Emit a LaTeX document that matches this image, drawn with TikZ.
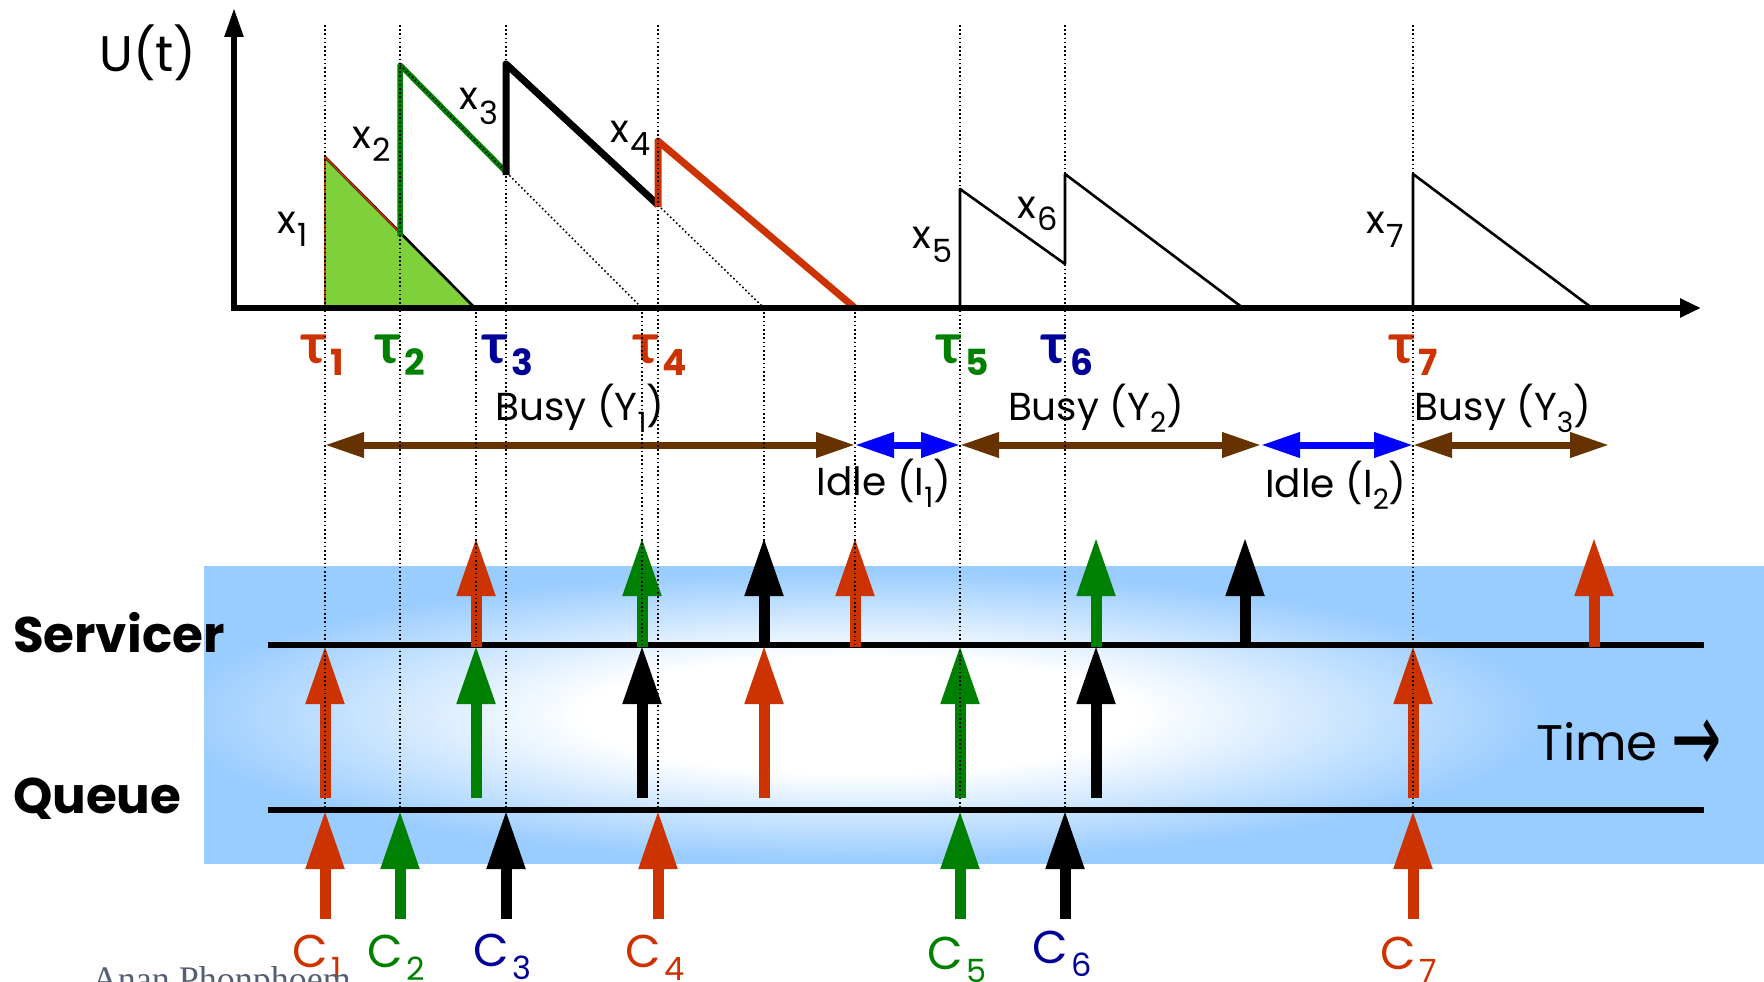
\documentclass[tikz,border=0pt]{standalone}
\usepackage{fontspec}
\setmainfont{Poppins}
\newfontfamily\taufont{Lato}
\newfontfamily\footfont{Liberation Serif}
\newfontfamily\arrowfont{DejaVu Sans}
\usetikzlibrary{arrows.meta}
\newcommand\fsz[1]{\fontsize{#1}{#1}\selectfont}
\definecolor{cred}{RGB}{204,51,0}
\definecolor{cgreen}{RGB}{0,128,0}
\definecolor{cnavy}{RGB}{0,0,153}
\definecolor{cbrown}{RGB}{102,51,0}
\definecolor{cblue}{RGB}{0,0,255}
\definecolor{cfill}{RGB}{126,209,59}
\definecolor{panelblue}{RGB}{153,204,255}
\definecolor{footgray}{RGB}{85,95,115}
\pgfdeclareradialshading{panelshade}{\pgfpoint{0bp}{0bp}}{color(0bp)=(white); color(10bp)=(white); color(25bp)=(panelblue); color(50bp)=(panelblue)}
\begin{document}
\begin{tikzpicture}[x=1pt,y=-1pt,
  lbl/.style={inner sep=0pt, outer sep=0pt},
  xlab/.style={lbl, anchor=base west, font=\fsz{39}},
  taulab/.style={lbl, anchor=base west},
  clab/.style={lbl, anchor=base west},
  spanlab/.style={lbl, anchor=base, font=\fsz{39}},
  dotline/.style={line width=1.6pt, dash pattern=on 1.6pt off 2.6pt},
  axisline/.style={line width=5.5pt},
  thinsaw/.style={line width=2.6pt, line join=round},
  thicksaw/.style={line width=7pt, line join=round},
  blockarrow/.style={line width=11pt, -{Triangle[width=36pt,length=59pt]}},
  spanarrow/.style={line width=7pt, {Triangle[width=24pt,length=39pt]}-{Triangle[width=24pt,length=39pt]}},
  rowline/.style={line width=5.5pt}
]
\useasboundingbox (0,0) rectangle (1764,982);
\clip (0,0) rectangle (1764,982);

% panel
\begin{scope}
  \clip (204,566) rectangle (1764,864);
  \fill[panelblue] (204,566) rectangle (1764,864);
  \shade[shading=panelshade] (860,715) ellipse [x radius=690pt, y radius=146pt];
\end{scope}

% workload curve
\fill[cfill] (325,308) -- (325,157) -- (475,308) -- cycle;
\draw[line width=2.6pt] (325,157) -- (475,308);
\draw[cred, line width=1.6pt] (325,311) -- (325,157) -- (400,233);
\draw[cgreen, line width=5.5pt, line join=round] (400,236) -- (400,65) -- (506,172);
\draw[dotline] (400,65) -- (506,172) -- (642,308);
\draw[thicksaw] (506,175) -- (506,64) -- (658,205);
\draw[dotline] (658,205) -- (764,308);
\draw[thicksaw, cred] (658,207) -- (658,141) -- (855,308);
\draw[thinsaw] (960,308) -- (960,189) -- (1065,264) -- (1065,174) -- (1243,308);
\draw[thinsaw] (1413,308) -- (1413,174) -- (1592,308);

% axes
\coordinate (origin) at (234,308);
\coordinate (ytip) at (234,8);
\coordinate (xtip) at (1701,308);
\draw[axisline, -{Triangle[width=18pt,length=29pt]}] (234,311) -- (ytip);
\draw[axisline, -{Triangle[width=18pt,length=21pt]}] (231,308) -- (xtip);

\node[lbl, anchor=base, font=\fsz{50}] (ut) at (148,72) {U(t)};

% x labels
\node[xlab] (x1) at (277,233) {x\kern2pt\lower13pt\hbox{\fsz{32}1}};
\node[xlab] (x2) at (352,148) {x\kern2pt\lower13pt\hbox{\fsz{32}2}};
\node[xlab] (x3) at (459,110) {x\kern2pt\lower14pt\hbox{\fsz{32}3}};
\node[xlab] (x4) at (610,142) {x\kern2pt\lower13pt\hbox{\fsz{32}4}};
\node[xlab] (x5) at (912,248) {x\kern2pt\lower14pt\hbox{\fsz{32}5}};
\node[xlab] (x6) at (1017,218) {x\kern2pt\lower12pt\hbox{\fsz{32}6}};
\node[xlab] (x7) at (1366,233) {x\kern2pt\lower14pt\hbox{\fsz{32}7}};

% tau labels
\newcommand\taug{{\taufont\bfseries\fsz{56}τ}}
\newcommand\tsub[1]{\lower12pt\hbox{\bfseries\fsz{36}#1}}
\node[taulab, text=cred]   (tau1) at (327,363) {\llap{\taug}\kern3pt\tsub{1}};
\node[taulab, text=cgreen] (tau2) at (401,363) {\llap{\taug}\kern3pt\tsub{2}};
\node[taulab, text=cnavy]  (tau3) at (508,363) {\llap{\taug}\kern3pt\tsub{3}};
\node[taulab, text=cred]   (tau4) at (659,363) {\llap{\taug}\kern3pt\tsub{4}};
\node[taulab, text=cgreen] (tau5) at (962,363) {\llap{\taug}\kern3pt\tsub{5}};
\node[taulab, text=cnavy]  (tau6) at (1067,363) {\llap{\taug}\kern3pt\tsub{6}};
\node[taulab, text=cred]   (tau7) at (1415,363) {\llap{\taug}\kern3pt\tsub{7}};

% busy / idle spans
\coordinate (s0) at (325,445);
\coordinate (s1) at (855,445);
\coordinate (s2) at (960,445);
\coordinate (s3) at (1261,445);
\coordinate (s4) at (1413,445);
\coordinate (s5) at (1609,445);
\draw[spanarrow, cbrown] (s0) -- (s1);
\draw[spanarrow, cblue] (s1) -- (s2);
\draw[spanarrow, cbrown] (s2) -- (s3);
\draw[spanarrow, cblue] (s3) -- (s4);
\draw[spanarrow, cbrown] (s4) -- (s5);
\node[spanlab] (busy1) at (580,420) {Busy (Y\lower12pt\hbox{\fsz{28}1})};
\node[spanlab] (busy2) at (1096,420) {Busy (Y\lower12pt\hbox{\fsz{28}2})};
\node[spanlab] (busy3) at (1503,420) {Busy (Y\lower12pt\hbox{\fsz{28}3})};
\node[spanlab] (idle1) at (884,495) {Idle (I\lower12pt\hbox{\fsz{28}1})};
\node[spanlab] (idle2) at (1336,497) {Idle (I\lower12pt\hbox{\fsz{28}2})};

% row lines
\coordinate (srvL) at (268,645);
\coordinate (srvR) at (1704,645);
\coordinate (queL) at (268,810);
\coordinate (queR) at (1704,810);
\draw[rowline] (srvL) -- (srvR);
\draw[rowline] (queL) -- (queR);

\node[lbl, anchor=base west, font=\bfseries\fsz{50}] (servicer) at (13,652) {Servicer};
\node[lbl, anchor=base west, font=\bfseries\fsz{50}] (queue) at (13,813) {Queue};
\node[lbl, anchor=base west, font=\fsz{50}] (time) at (1536,760) {Time\kern14pt\lower12pt\hbox{\arrowfont\fsz{80}\scalebox{0.75}[1.25]{→}}};

% arrival arrows
\foreach \x/\c/\n in {325/cred/1,400/cgreen/2,506/black/3,658/cred/4,960/cgreen/5,1065/black/6,1413/cred/7}{
  \coordinate (arr\n s) at (\x,919);
  \coordinate (arr\n e) at (\x,810);
  \draw[blockarrow, \c] (arr\n s) -- (arr\n e);
}
% start of service arrows
\foreach \x/\c/\n in {325/cred/1,476/cgreen/2,642/black/3,764/cred/4,960/cgreen/5,1096/black/6,1413/cred/7}{
  \coordinate (st\n s) at (\x,798);
  \coordinate (st\n e) at (\x,645);
  \draw[blockarrow, \c] (st\n s) -- (st\n e);
}
% departure arrows
\foreach \x/\c/\n in {476/cred/1,642/cgreen/2,764/black/3,855/cred/4,1096/cgreen/5,1245/black/6,1594/cred/7}{
  \coordinate (dp\n s) at (\x,647);
  \coordinate (dp\n e) at (\x,537);
  \draw[blockarrow, \c] (dp\n s) -- (dp\n e);
}

% C labels
\newcommand\cg{\fsz{46}C}
\newcommand\csub[1]{\lower13pt\hbox{\fsz{32}#1}}
\node[clab, text=cred]   (c1) at (328,967) {\llap{\cg}\kern3pt\csub{1}};
\node[clab, text=cgreen] (c2) at (403,967) {\llap{\cg}\kern3pt\csub{2}};
\node[clab, text=cnavy]  (c3) at (509,966) {\llap{\cg}\kern3pt\csub{3}};
\node[clab, text=cred]   (c4) at (661,967) {\llap{\cg}\kern3pt\csub{4}};
\node[clab, text=cgreen] (c5) at (963,969) {\llap{\cg}\kern3pt\csub{5}};
\node[clab, text=cnavy]  (c6) at (1068,963) {\llap{\cg}\kern3pt\csub{6}};
\node[clab, text=cred]   (c7) at (1416,969) {\llap{\cg}\kern3pt\csub{7}};

\node[lbl, anchor=base west, text=footgray, font=\footfont\fsz{36}] (foot) at (92,991) {Anan Phonphoem};

% dotted guide lines
\foreach \x in {325,400,506,658,960,1065,1413}{
  \draw[dotline] (\x,25) -- (\x,808);
}
\foreach \x in {476,642,764,855}{
  \draw[dotline] (\x,308) -- (\x,645);
}
\end{tikzpicture}
\end{document}
